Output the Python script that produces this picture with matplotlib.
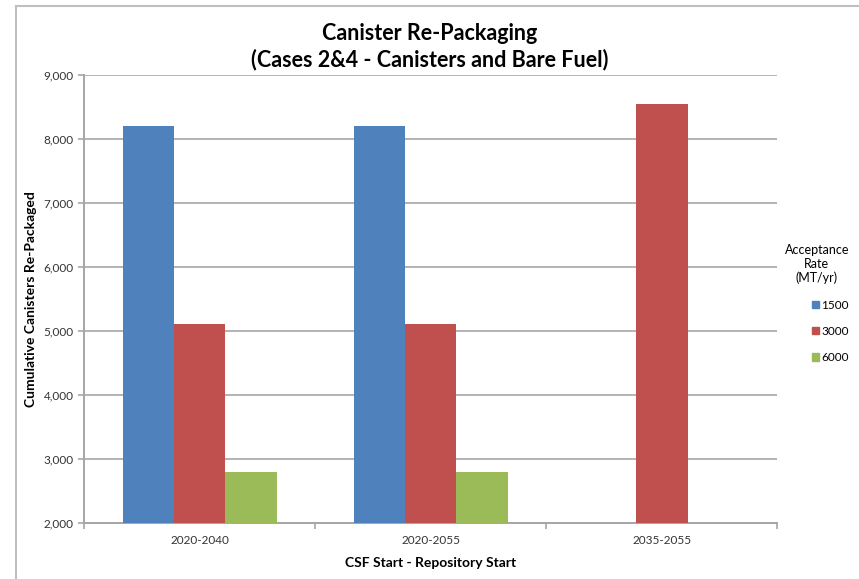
import numpy as np
import matplotlib.pyplot as plt
from matplotlib.lines import Line2D
from matplotlib.patches import Patch

plt.rcParams['font.family'] = ['Lato', 'DejaVu Sans']

cases = ['2020-2040', '2020-2055', '2035-2055']
rates = ['1500', '3000', '6000']
# cumulative canisters re-packaged per acceptance rate
rate_1500 = [8200, 8200, np.nan]
rate_3000 = [5100, 5100, 8550]
rate_6000 = [2800, 2800, np.nan]
colors = ['#4f81bd', '#c0504d', '#9bbb59']

fig = plt.figure(figsize=(8.59, 5.79), dpi=100)
ax = fig.add_axes([0.098, 0.097, 0.807, 0.774])

x = np.arange(len(cases))
w = 1 / 4.5
for i, vals in enumerate([rate_1500, rate_3000, rate_6000]):
    ax.bar(x + (i - 1) * w, np.array(vals) - 2000, width=w, bottom=2000,
           color=colors[i], zorder=3)

ax.set_xlim(-0.5, 2.5)
ax.set_ylim(2000, 9000)
ax.set_yticks(range(2000, 9001, 1000))
ax.set_yticklabels([f'{v:,}' for v in range(2000, 9001, 1000)], fontsize=8.5, color='#333333')
ax.set_xticks(x)
ax.set_xticklabels(cases, fontsize=8.5, color='#333333')
ax.set_xticks([-0.5, 0.5, 1.5, 2.5], minor=True)
ax.tick_params(axis='x', which='major', length=0, pad=9)
ax.tick_params(axis='x', which='minor', length=4, color='#a6a6a6', width=1.2)
ax.tick_params(axis='y', length=4, color='#a6a6a6', width=1.2)

ax.grid(axis='y', color='#b3b3b3', linewidth=1.4, zorder=0)
for s in ['top', 'right']:
    ax.spines[s].set_visible(False)
ax.spines['bottom'].set_color('#a6a6a6')
ax.spines['bottom'].set_linewidth(1.4)
ax.spines['left'].set_color('#a6a6a6')
ax.spines['left'].set_linewidth(1.4)
ax.spines['left'].set_linestyle((0, (1, 1)))

ax.set_xlabel('CSF Start - Repository Start', fontsize=10, fontweight='bold', labelpad=8)
ax.set_ylabel('Cumulative Canisters Re-Packaged', fontsize=10, fontweight='bold', labelpad=5)
fig.text(0.5, 1 - 47 / 579, 'Canister Re-Packaging\n(Cases 2&4 - Canisters and Bare Fuel)',
         ha='center', va='center', fontsize=15.5, fontweight='bold', linespacing=1.25)

handles = [Patch(color=c) for c in colors]
leg = ax.legend(handles, rates, title='Acceptance\nRate\n(MT/yr)', frameon=False,
                loc='upper left', bbox_to_anchor=(0.995, 0.647), fontsize=8.5,
                title_fontsize=9, handlelength=0.6, handleheight=0.6,
                handletextpad=0.2, labelspacing=1.3, alignment='right')
leg.get_title().set_multialignment('center')

# chart area border
fig.add_artist(Line2D([16 / 859, 1], [1 - 6 / 579] * 2, color='#bfbfbf', linewidth=1.5))
fig.add_artist(Line2D([16 / 859] * 2, [0, 1 - 6 / 579], color='#bfbfbf', linewidth=1.5))

fig.savefig('out.png', dpi=100)
